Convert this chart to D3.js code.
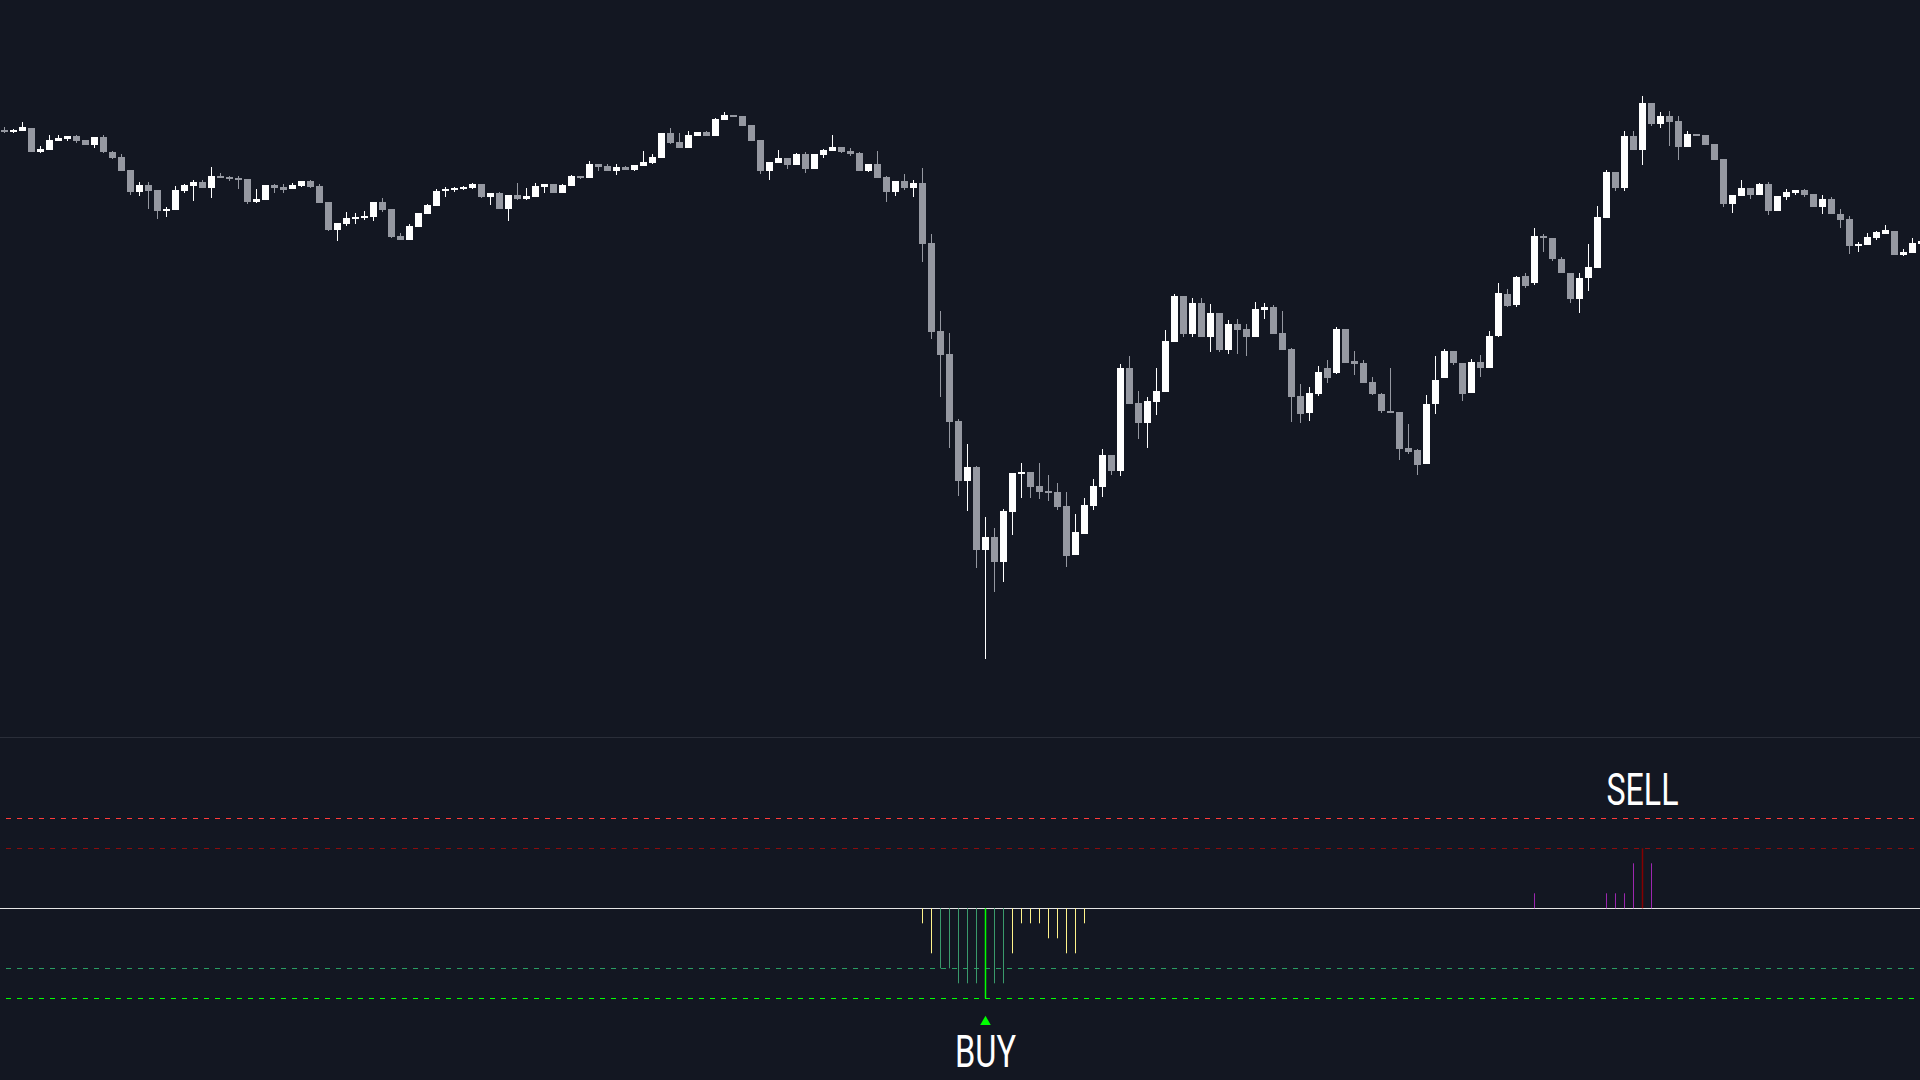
<!doctype html>
<html lang="en">
<head>
<meta charset="utf-8">
<title>Candles + oscillator</title>
<script src="https://cdn.jsdelivr.net/npm/d3@7"></script>
<style>
    html, body { margin: 0; padding: 0; background: #131722; overflow: hidden; }
    svg { display: block; }
    .wick, .body { shape-rendering: crispEdges; }
    .level { fill: none; stroke-width: 1px; shape-rendering: crispEdges; }
    .signal { font-family: Roboto, "Noto Sans", sans-serif; fill: #ffffff; }
</style>
</head>
<body>
<svg width="1920" height="1080"></svg>
<script>
// ohlc, one entry per candle (index 0 = leftmost)
var opens = [87.00,86.83,86.93,87.20,84.80,85.00,85.90,86.10,86.40,86.00,85.53,86.30,84.80,84.30,83.00,80.83,81.50,81.00,78.93,79.03,
    80.93,81.40,81.80,81.23,82.40,82.30,82.20,82.10,79.83,80.03,81.50,81.30,81.13,81.43,81.90,81.40,79.80,77.03,77.60,78.10,
    78.20,78.30,79.80,79.10,76.40,76.00,77.30,78.60,79.40,80.90,81.00,81.10,81.20,81.60,80.30,80.70,79.10,80.50,80.10,80.30,
    81.30,81.60,80.70,81.40,82.40,82.20,83.60,83.40,82.90,83.30,83.00,83.40,83.70,84.20,86.70,85.80,85.20,86.40,86.80,86.40,
    88.00,88.50,88.40,87.50,86.00,82.90,83.70,84.20,83.50,84.60,83.10,84.50,84.90,85.30,84.90,84.70,82.90,83.60,82.30,80.80,
    81.90,81.20,81.70,75.70,66.90,64.60,57.90,51.90,53.30,45.00,46.30,43.80,48.80,52.60,52.80,51.40,50.90,50.80,49.40,44.50,
    46.60,49.40,51.30,54.50,52.90,63.20,59.70,57.70,59.80,60.80,65.80,70.40,66.60,69.70,66.30,68.70,65.00,67.60,67.10,66.30,
    69.00,69.30,66.70,65.10,60.40,58.70,60.60,63.20,62.70,67.10,63.90,63.70,61.80,60.60,58.90,58.80,55.20,55.00,53.60,59.60,
    62.20,64.90,63.70,60.70,63.80,63.20,66.40,70.60,69.50,72.40,71.70,76.40,76.20,74.10,72.70,70.10,72.20,73.20,78.20,82.80,
    81.20,86.40,85.00,89.70,87.60,88.40,87.90,85.30,86.60,86.50,85.60,84.10,79.60,80.40,81.20,80.50,81.60,78.90,80.30,80.70,
    81.00,80.60,79.30,80.10,78.60,78.10,75.40,75.50,76.20,76.60,76.90,74.50,74.70,75.60];
var highs = [87.30,87.13,87.80,87.20,85.40,86.50,86.50,86.40,86.50,86.00,86.30,86.50,84.90,84.60,83.00,81.80,81.80,81.00,79.30,81.40,
    81.60,82.00,82.00,83.30,82.70,82.40,82.40,82.10,81.10,81.50,81.60,81.60,81.70,81.90,82.00,81.60,79.80,77.70,78.80,78.70,
    78.90,79.80,80.20,79.10,76.70,77.60,78.70,79.60,81.10,81.30,81.30,81.40,81.70,81.60,80.70,80.80,80.50,81.70,81.20,81.70,
    81.60,81.60,81.60,82.50,82.40,83.90,83.60,83.60,83.60,83.40,83.50,84.90,84.60,86.70,87.20,86.70,86.90,86.80,86.90,88.20,
    88.80,88.50,88.40,87.50,86.00,83.80,85.00,84.20,84.70,84.80,84.60,85.10,86.50,85.30,85.20,84.80,83.60,84.90,82.40,81.90,
    82.60,82.00,83.20,76.60,68.90,66.70,58.10,55.60,53.40,48.30,47.20,49.10,52.70,53.70,52.80,53.70,52.50,51.70,50.80,48.60,
    50.20,52.10,55.10,54.50,63.60,64.40,60.90,60.30,63.20,67.00,70.60,70.40,70.20,70.20,69.60,68.70,68.00,68.10,67.60,69.80,
    69.70,69.50,68.90,65.20,61.60,61.30,63.40,64.00,67.30,67.10,64.90,64.00,62.30,60.70,63.20,58.80,57.60,55.10,60.50,64.40,
    65.10,64.90,63.70,64.10,64.50,66.90,71.70,71.10,72.40,72.70,77.20,76.60,76.20,74.30,72.70,72.70,75.60,79.40,83.00,82.80,
    86.90,86.90,90.40,89.70,88.80,88.90,88.40,86.90,86.60,86.50,85.60,84.10,80.50,82.00,81.20,81.70,81.80,80.40,81.10,81.00,
    81.10,80.60,80.50,80.30,79.10,78.40,75.80,76.70,76.90,77.50,76.90,75.10,76.20,75.90];
var lows = [86.73,86.70,86.93,84.83,84.70,85.00,85.90,85.93,85.73,85.53,85.23,84.73,84.13,82.93,80.53,80.43,79.13,78.13,78.33,79.03,
    80.73,79.93,81.23,80.23,82.23,81.93,81.13,79.63,79.73,80.03,80.73,80.73,81.13,81.33,81.23,79.73,76.93,75.93,77.43,77.60,
    78.00,77.90,78.80,76.20,76.00,76.00,77.30,78.60,79.40,80.30,80.80,81.00,81.10,80.20,79.50,79.10,77.90,80.00,80.00,80.30,
    80.70,80.70,80.70,81.40,82.10,82.20,82.90,82.90,82.50,83.00,82.90,83.40,83.60,84.20,85.60,85.20,85.20,86.40,86.40,86.40,
    88.00,88.30,87.40,85.90,82.60,82.00,83.70,83.10,83.50,82.70,83.10,84.20,84.90,84.70,84.40,82.90,82.80,82.20,79.80,80.40,
    81.00,80.30,73.80,66.10,60.30,55.20,50.40,48.90,43.20,34.10,40.80,41.80,46.50,50.20,50.20,50.10,49.90,49.00,43.30,44.50,
    46.60,49.00,50.30,52.50,52.40,59.60,56.10,55.20,58.50,60.80,65.80,66.30,66.30,66.30,64.80,64.80,64.60,64.60,64.40,66.30,
    68.10,66.60,65.00,57.80,57.70,57.90,60.40,61.70,62.60,63.70,62.50,61.70,60.50,58.70,58.80,54.00,54.60,52.50,53.60,58.60,
    62.20,63.50,59.90,60.70,62.30,63.20,66.30,69.30,69.30,71.20,71.50,74.80,73.90,72.70,69.70,68.70,70.90,73.20,78.20,80.90,
    80.90,85.00,83.50,87.40,87.20,85.40,84.00,85.30,86.40,85.50,84.00,79.30,78.70,80.40,80.10,80.50,78.50,78.90,80.00,80.50,
    80.30,79.30,78.60,78.60,77.20,74.60,74.80,75.50,76.00,76.60,74.50,74.40,74.70,75.60];
var closes = [86.83,87.03,87.30,84.83,85.10,86.00,86.23,86.40,85.93,85.53,86.30,84.80,84.23,82.93,80.83,81.50,80.93,78.93,79.13,81.00,
    81.50,81.80,81.23,82.40,82.23,82.13,82.00,79.83,80.10,81.50,81.23,81.03,81.50,81.90,81.33,79.73,77.03,77.70,78.20,78.30,
    78.40,79.80,79.00,76.30,76.00,77.40,78.70,79.50,80.90,81.10,81.20,81.30,81.60,80.30,80.70,79.10,80.50,80.10,80.40,81.40,
    81.60,80.70,81.50,82.40,82.20,83.60,83.30,82.90,83.30,83.00,83.50,83.80,84.30,86.70,85.70,85.20,86.50,86.80,86.40,88.10,
    88.50,88.30,87.40,85.90,82.90,83.80,84.20,83.50,84.60,83.10,84.60,85.00,85.30,84.80,84.60,82.90,83.60,82.20,80.80,81.90,
    81.20,81.70,75.60,66.80,64.50,57.80,51.90,53.30,45.00,46.30,43.80,48.90,52.70,52.80,51.30,50.80,50.70,49.30,44.40,46.80,
    49.50,51.40,54.50,52.90,63.20,59.60,57.70,59.90,60.90,65.90,70.40,66.60,69.70,66.30,68.70,65.00,67.60,67.00,66.30,69.10,
    69.30,66.60,65.00,60.30,58.60,60.70,62.80,62.20,67.10,63.70,63.60,61.70,60.60,58.90,58.80,55.10,54.80,53.50,59.60,62.00,
    64.90,63.70,60.60,63.80,63.20,66.40,70.70,69.40,72.30,71.40,76.40,76.20,74.10,72.70,70.10,72.20,73.30,78.30,82.80,81.20,
    86.40,85.00,89.70,87.60,88.40,87.80,85.30,86.60,86.40,85.50,84.00,79.60,80.50,81.20,80.50,81.60,78.90,80.40,80.80,81.00,
    80.50,79.30,80.10,78.60,78.00,75.40,75.60,76.30,76.80,77.00,74.50,74.80,75.70,75.90];

// oscillator histogram (only candles where it is non zero)
var oscIndex = [102,103,104,105,106,107,108,109,110,111,112,113,114,115,116,117,118,119,120,
    170,178,179,180,181,182,183];
var oscValues = [-0.5,-1.5,-2,-2,-2.5,-2.5,-2.5,-3,-2.5,-2.5,-1.5,-0.5,-0.5,-0.5,-1,-1,-1.5,-1.5,-0.5,
    0.5,0.5,0.5,0.5,1.5,2,1.5];
var levels = [3, 2, 0, -2, -3];
var levelColors = ["#ff3b3b", "#8b0d0d", "#e6e6e6", "#2a9d62", "#00ff00"];

// signals
var buyIndex = 109, sellIndex = 182;

var svg = d3.select("svg");
var W = 1920, H = 1080;
var paneH = 737;

svg.append("rect").attr("width", W).attr("height", H).attr("fill", "#131722");

var n = opens.length;
var x = d3.scaleBand()
    .domain(d3.range(n))
    .range([0, n * 9])
    .paddingInner(2 / 9)
    .paddingOuter(1 / 9);

var y = d3.scaleLinear().domain([30, 100]).range([700, 0]);
var oy = d3.scaleLinear().domain([-3, 3]).range([998.3, 818.3]);

var candles = d3.range(n).map(function(i) {
    return {i: i, o: opens[i], h: highs[i], l: lows[i], c: closes[i]};
});

var up = "#ffffff", down = "#9598a1";

var cg = svg.append("g").selectAll("g")
    .data(candles)
    .enter().append("g");

cg.append("line")
    .attr("class", "wick")
    .attr("x1", function(d) { return x(d.i) + x.bandwidth() / 2; })
    .attr("x2", function(d) { return x(d.i) + x.bandwidth() / 2; })
    .attr("y1", function(d) { return y(d.h); })
    .attr("y2", function(d) { return y(d.l); })
    .attr("stroke", function(d) { return d.c >= d.o ? up : down; })
    .attr("stroke-width", 1);

cg.append("rect")
    .attr("class", "body")
    .attr("x", function(d) { return x(d.i); })
    .attr("width", x.bandwidth())
    .attr("y", function(d) { return y(Math.max(d.o, d.c)); })
    .attr("height", function(d) { return Math.max(1.5, Math.abs(y(d.o) - y(d.c))); })
    .attr("fill", function(d) { return d.c >= d.o ? up : down; });

// pane separator
svg.append("line")
    .attr("x1", 0).attr("x2", W)
    .attr("y1", paneH + 0.5).attr("y2", paneH + 0.5)
    .attr("stroke", "#2a2e39");

// level lines
svg.append("g").selectAll("line")
    .data(levels)
    .enter().append("line")
    .attr("class", "level")
    .attr("x1", function(d) { return d === 0 ? 0 : 6; })
    .attr("x2", W)
    .attr("y1", function(d) { return oy(d); })
    .attr("y2", function(d) { return oy(d); })
    .attr("stroke", function(d, i) { return levelColors[i]; })
    .attr("stroke-dasharray", function(d) { return d === 0 ? null : "5,6"; });

function oscColor(v) {
    if (v <= -3) return "#00ff00";
    if (v <= -2) return "#3a9a6c";
    if (v < 0) return "#fff38a";
    if (v >= 3) return "#ff3b3b";
    if (v >= 2) return "#850000";
    return "#9c27b0";
}

svg.append("g").selectAll("line")
    .data(oscIndex.map(function(idx, k) { return {i: idx, v: oscValues[k]}; }))
    .enter().append("line")
    .attr("x1", function(d) { return x(d.i) + x.bandwidth() / 2; })
    .attr("x2", function(d) { return x(d.i) + x.bandwidth() / 2; })
    .attr("y1", oy(0))
    .attr("y2", function(d) { return oy(d.v); })
    .attr("stroke", function(d) { return oscColor(d.v); })
    .attr("stroke-width", function(d) { return Math.abs(d.v) >= 2 && d.v > 0 || d.v <= -3 ? 1.5 : 1; });

// buy / sell markers
var bx = x(buyIndex) + x.bandwidth() / 2;
var sx = x(sellIndex) + x.bandwidth() / 2;

svg.append("path")
    .attr("d", "M" + bx + "," + (oy(-3) + 17.5) + "l5.3,9.3h-10.6z")
    .attr("fill", "#00ff00");

svg.append("text")
    .attr("class", "signal")
    .attr("x", bx)
    .attr("y", oy(-3) + 68.4)
    .attr("text-anchor", "middle")
    .attr("font-size", 45)
    .attr("textLength", 61)
    .attr("lengthAdjust", "spacingAndGlyphs")
    .text("BUY");

svg.append("text")
    .attr("class", "signal")
    .attr("x", sx)
    .attr("y", oy(3) - 13.3)
    .attr("text-anchor", "middle")
    .attr("font-size", 45)
    .attr("textLength", 72)
    .attr("lengthAdjust", "spacingAndGlyphs")
    .text("SELL");
</script>
</body>
</html>
